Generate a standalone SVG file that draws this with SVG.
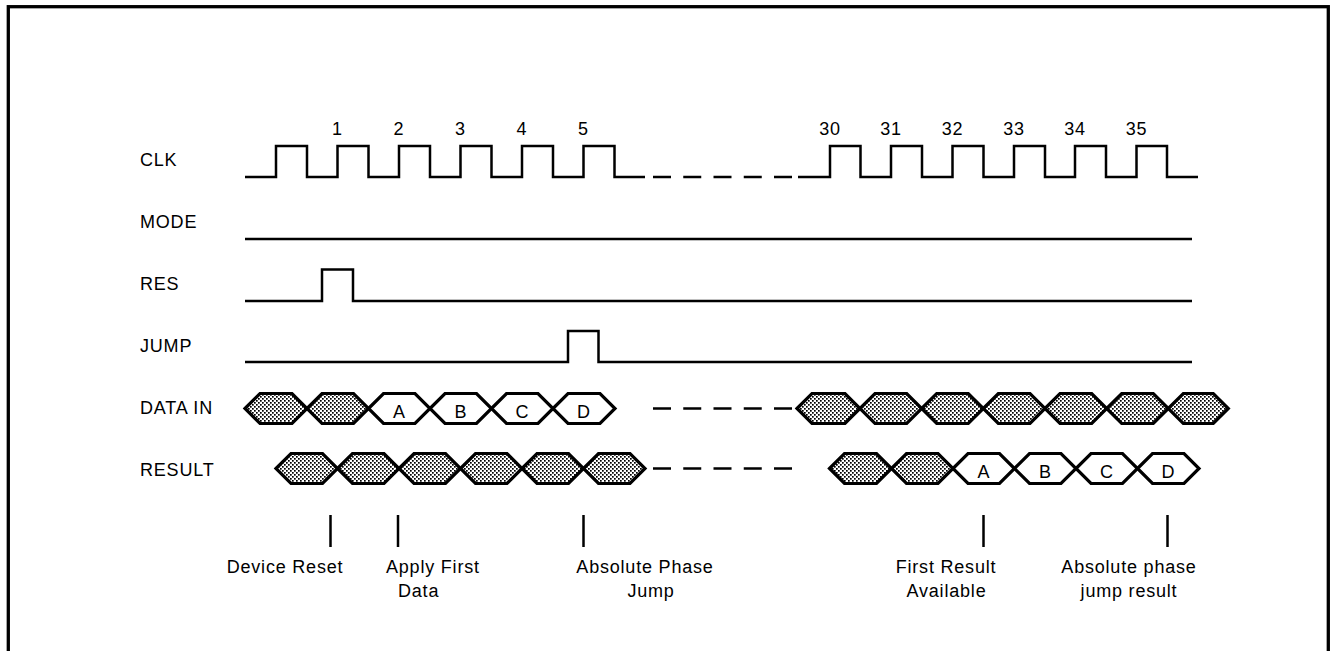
<svg xmlns="http://www.w3.org/2000/svg" width="1334" height="651" viewBox="0 0 1334 651">
<defs>
<pattern id="dots" width="4" height="4" patternUnits="userSpaceOnUse">
<rect width="4" height="4" fill="#ffffff"/>
<rect x="0" y="0" width="1.7" height="1.7" fill="#000"/>
<rect x="2" y="2" width="1.7" height="1.7" fill="#000"/>
</pattern>
</defs>
<style>
.t{font-family:"Liberation Sans",Arial,Helvetica,sans-serif;font-size:18px;letter-spacing:0.8px;fill:#000}
.m{text-anchor:middle}
.w{fill:none;stroke:#000;stroke-width:2.5;stroke-linejoin:miter}
.hs{fill:url(#dots);stroke:#000;stroke-width:3.2;stroke-linejoin:miter}
.hw{fill:#fff;stroke:#000;stroke-width:3.2;stroke-linejoin:miter}
.d{fill:none;stroke:#000;stroke-width:2.5;stroke-dasharray:18 12.25}
.tk{stroke:#000;stroke-width:2.5}
</style>
<rect x="8.3" y="6.7" width="1320" height="720" fill="#fff" stroke="#000" stroke-width="3.3"/>

<g id="labels">
<text class="t" x="140" y="166">CLK</text>
<text class="t" x="140" y="228">MODE</text>
<text class="t" x="140" y="290">RES</text>
<text class="t" x="140" y="352">JUMP</text>
<text class="t" x="140" y="414">DATA IN</text>
<text class="t" x="140" y="476">RESULT</text>
</g>

<g id="clk">
<path class="w" d="M245,177 H276 V146 H307 V177 H337.5 V146 H368.5 V177 H399 V146 H430 V177 H460.5 V146 H491.5 V177 H522 V146 H553 V177 H583.5 V146 H614.5 V177 H645"/>
<path class="w" d="M798,177 H830 V146 H860.5 V177 H891 V146 H922 V177 H952.5 V146 H983.5 V177 H1014 V146 H1045 V177 H1075 V146 H1106 V177 H1136.5 V146 H1167 V177 H1198"/>
<line class="d" x1="653" y1="177" x2="792" y2="177"/>
<text class="t m" x="337.5" y="135">1</text>
<text class="t m" x="399" y="135">2</text>
<text class="t m" x="460.5" y="135">3</text>
<text class="t m" x="522" y="135">4</text>
<text class="t m" x="583.5" y="135">5</text>
<text class="t m" x="830" y="135">30</text>
<text class="t m" x="891" y="135">31</text>
<text class="t m" x="952.5" y="135">32</text>
<text class="t m" x="1014" y="135">33</text>
<text class="t m" x="1075" y="135">34</text>
<text class="t m" x="1136.5" y="135">35</text>
</g>

<g id="mode">
<path class="w" d="M245,239 H1192"/>
</g>

<g id="res">
<path class="w" d="M245,301 H322 V269.5 H353 V301 H1192"/>
</g>

<g id="jump">
<path class="w" d="M245,362 H568 V331 H598.5 V362 H1192"/>
</g>

<g id="datain">
<polygon class="hs" points="245,408.5 260,393.5 292,393.5 307,408.5 292,423.5 260,423.5"/>
<polygon class="hs" points="307,408.5 322,393.5 353.5,393.5 368.5,408.5 353.5,423.5 322,423.5"/>
<polygon class="hw" points="368.5,408.5 383.5,393.5 415,393.5 430,408.5 415,423.5 383.5,423.5"/>
<polygon class="hw" points="430,408.5 445,393.5 476.5,393.5 491.5,408.5 476.5,423.5 445,423.5"/>
<polygon class="hw" points="491.5,408.5 506.5,393.5 538,393.5 553,408.5 538,423.5 506.5,423.5"/>
<polygon class="hw" points="553,408.5 568,393.5 600,393.5 615,408.5 600,423.5 568,423.5"/>
<text class="t m" x="399.5" y="418">A</text>
<text class="t m" x="461" y="418">B</text>
<text class="t m" x="522.5" y="418">C</text>
<text class="t m" x="584" y="418">D</text>
<line class="d" x1="653" y1="408.5" x2="792" y2="408.5"/>
<polygon class="hs" points="797,408.5 812,393.5 845,393.5 860,408.5 845,423.5 812,423.5"/>
<polygon class="hs" points="860,408.5 875,393.5 906.7,393.5 921.7,408.5 906.7,423.5 875,423.5"/>
<polygon class="hs" points="921.7,408.5 936.7,393.5 968.3,393.5 983.3,408.5 968.3,423.5 936.7,423.5"/>
<polygon class="hs" points="983.3,408.5 998.3,393.5 1030,393.5 1045,408.5 1030,423.5 998.3,423.5"/>
<polygon class="hs" points="1045,408.5 1060,393.5 1091.7,393.5 1106.7,408.5 1091.7,423.5 1060,423.5"/>
<polygon class="hs" points="1106.7,408.5 1121.7,393.5 1153.3,393.5 1168.3,408.5 1153.3,423.5 1121.7,423.5"/>
<polygon class="hs" points="1168.3,408.5 1183.3,393.5 1213.3,393.5 1228.3,408.5 1213.3,423.5 1183.3,423.5"/>
</g>

<g id="result">
<polygon class="hs" points="276,468.5 291,453.5 322.5,453.5 337.5,468.5 322.5,483.5 291,483.5"/>
<polygon class="hs" points="337.5,468.5 352.5,453.5 384,453.5 399,468.5 384,483.5 352.5,483.5"/>
<polygon class="hs" points="399,468.5 414,453.5 445.5,453.5 460.5,468.5 445.5,483.5 414,483.5"/>
<polygon class="hs" points="460.5,468.5 475.5,453.5 507,453.5 522,468.5 507,483.5 475.5,483.5"/>
<polygon class="hs" points="522,468.5 537,453.5 568.5,453.5 583.5,468.5 568.5,483.5 537,483.5"/>
<polygon class="hs" points="583.5,468.5 598.5,453.5 630,453.5 645,468.5 630,483.5 598.5,483.5"/>
<line class="d" x1="653" y1="468.5" x2="792" y2="468.5"/>
<polygon class="hs" points="829.5,468.5 844.5,453.5 876.5,453.5 891.5,468.5 876.5,483.5 844.5,483.5"/>
<polygon class="hs" points="891.5,468.5 906.5,453.5 938,453.5 953,468.5 938,483.5 906.5,483.5"/>
<polygon class="hw" points="953,468.5 968,453.5 999.5,453.5 1014.5,468.5 999.5,483.5 968,483.5"/>
<polygon class="hw" points="1014.5,468.5 1029.5,453.5 1061,453.5 1076,468.5 1061,483.5 1029.5,483.5"/>
<polygon class="hw" points="1076,468.5 1091,453.5 1122.5,453.5 1137.5,468.5 1122.5,483.5 1091,483.5"/>
<polygon class="hw" points="1137.5,468.5 1152.5,453.5 1184,453.5 1199,468.5 1184,483.5 1152.5,483.5"/>
<text class="t m" x="984" y="478">A</text>
<text class="t m" x="1045.5" y="478">B</text>
<text class="t m" x="1107" y="478">C</text>
<text class="t m" x="1168.5" y="478">D</text>
</g>

<g id="annotations">
<line class="tk" x1="330.5" y1="515" x2="330.5" y2="547"/>
<line class="tk" x1="398" y1="515" x2="398" y2="547"/>
<line class="tk" x1="583.5" y1="515" x2="583.5" y2="547"/>
<line class="tk" x1="983.5" y1="515" x2="983.5" y2="547"/>
<line class="tk" x1="1167.5" y1="515" x2="1167.5" y2="547"/>
<text class="t m" x="285" y="573">Device Reset</text>
<text class="t" x="386" y="573">Apply First</text>
<text class="t" x="398" y="597">Data</text>
<text class="t m" x="645" y="573">Absolute Phase</text>
<text class="t m" x="651" y="597">Jump</text>
<text class="t m" x="946" y="573">First Result</text>
<text class="t m" x="946.5" y="597">Available</text>
<text class="t m" x="1129" y="573">Absolute phase</text>
<text class="t m" x="1129" y="597">jump result</text>
</g>
</svg>
